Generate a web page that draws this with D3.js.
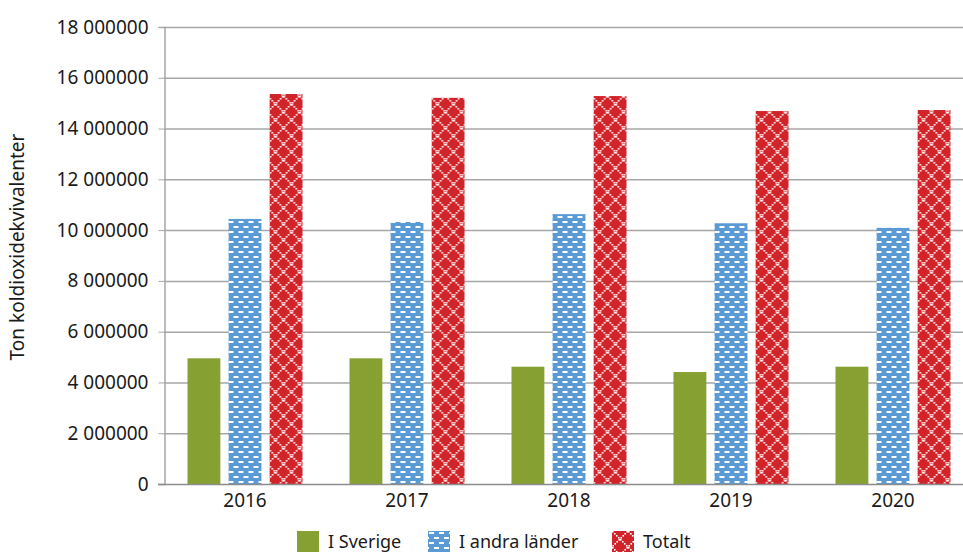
<!DOCTYPE html>
<html>
<head>
<meta charset="utf-8">
<script src="https://cdn.jsdelivr.net/npm/d3@7"></script>
<style>
  body { margin: 0; background: #fff; }
  text { font-family: 'Noto Sans', 'Open Sans', sans-serif; fill: #1a1a1a; }
</style>
</head>
<body>
<div id="chart"></div>
<script>
// chart data
const years = ['2016', '2017', '2018', '2019', '2020'];
const seriesNames = ['I Sverige', 'I andra länder', 'Totalt'];
const iSverige = [4950000, 4950000, 4620000, 4410000, 4620000];
const iAndraLander = [10440000, 10320000, 10630000, 10270000, 10090000];
const totalt = [15360000, 15210000, 15280000, 14690000, 14730000];
const yTicks = [0, 2000000, 4000000, 6000000, 8000000, 10000000, 12000000, 14000000, 16000000, 18000000];
const yTickLabels = ['0', '2 000000', '4 000000', '6 000000', '8 000000', '10 000000', '12 000000', '14 000000', '16 000000', '18 000000'];

const width = 963, height = 554;
const margin = { top: 27, left: 164, bottom: 70, right: -11 };

const svg = d3.select('#chart').append('svg')
  .attr('width', width)
  .attr('height', height);

const defs = svg.append('defs');

// blue brick pattern of white dashes
const pBlue = defs.append('pattern')
  .attr('id', 'pBlue')
  .attr('patternUnits', 'userSpaceOnUse')
  .attr('width', 10).attr('height', 10);
pBlue.append('rect').attr('width', 10).attr('height', 10).attr('fill', '#5b9bd5');
pBlue.append('rect').attr('x', 1).attr('y', 1).attr('width', 5).attr('height', 2).attr('fill', '#fff');
pBlue.append('rect').attr('x', 6).attr('y', 6).attr('width', 5).attr('height', 2).attr('fill', '#fff');
pBlue.append('rect').attr('x', -4).attr('y', 6).attr('width', 5).attr('height', 2).attr('fill', '#fff');

// red diamond lattice of dotted white lines
const pRed = defs.append('pattern')
  .attr('id', 'pRed')
  .attr('patternUnits', 'userSpaceOnUse')
  .attr('width', 16).attr('height', 16);
pRed.append('rect').attr('width', 16).attr('height', 16).attr('fill', '#d0232a');
d3.range(0, 16, 2).forEach(function(i) {
  pRed.append('rect').attr('x', i).attr('y', i).attr('width', 1.6).attr('height', 1.6).attr('fill', '#fff');
  pRed.append('rect').attr('x', 14.4 - i).attr('y', i).attr('width', 1.6).attr('height', 1.6).attr('fill', '#fff');
});

const fills = ['#86a032', 'url(#pBlue)', 'url(#pRed)'];
const values = [iSverige, iAndraLander, totalt];

const chartWidth = width - margin.left - margin.right;
const chartHeight = height - margin.top - margin.bottom;

const x0 = d3.scaleBand()
  .domain(years)
  .range([margin.left, margin.left + chartWidth])
  .paddingInner(0.29)
  .paddingOuter(0.145);

const x1 = d3.scaleBand()
  .domain(d3.range(seriesNames.length))
  .range([0, x0.bandwidth()])
  .paddingInner(0.2);

const y = d3.scaleLinear()
  .domain([0, 18000000])
  .range([margin.top + chartHeight, margin.top]);

// gridlines
svg.append('g')
  .selectAll('line')
  .data(yTicks.slice(1))
  .enter().append('line')
  .attr('x1', margin.left).attr('x2', width)
  .attr('y1', function(d) { return y(d) + 0.5; })
  .attr('y2', function(d) { return y(d) + 0.5; })
  .attr('stroke', '#a6a6a6')
  .attr('stroke-width', 1.5);

// y axis
const yAxis = svg.append('g')
  .attr('transform', 'translate(' + (margin.left + 0.5) + ',0)')
  .call(d3.axisLeft(y)
    .tickValues(yTicks)
    .tickSize(6)
    .tickPadding(10)
    .tickFormat(function(d, i) { return yTickLabels[i]; }));
yAxis.select('.domain').attr('stroke', '#a6a6a6').attr('stroke-width', 1.5);
yAxis.selectAll('.tick line').attr('stroke', '#a6a6a6');
yAxis.selectAll('.tick text').style('font-size', '19px').attr('fill', '#1a1a1a');

// bars
const groups = svg.append('g')
  .selectAll('g')
  .data(years)
  .enter().append('g')
  .attr('transform', function(d) { return 'translate(' + x0(d) + ',0)'; });

groups.selectAll('rect')
  .data(function(d, i) { return values.map(function(s, k) { return { k: k, v: s[i] }; }); })
  .enter().append('rect')
  .attr('x', function(d) { return x1(d.k); })
  .attr('width', x1.bandwidth())
  .attr('y', function(d) { return y(d.v); })
  .attr('height', function(d) { return y(0) - y(d.v); })
  .attr('fill', function(d) { return fills[d.k]; });

// x axis
const xAxis = svg.append('g')
  .attr('transform', 'translate(0,' + (y(0) + 0.5) + ')')
  .call(d3.axisBottom(x0).tickSize(0).tickPadding(9));
xAxis.select('.domain').attr('stroke', '#8c8c8c').attr('stroke-width', 1.5)
  .attr('d', 'M' + (margin.left - 6) + ',0H' + width);
xAxis.selectAll('.tick text').style('font-size', '19px').attr('fill', '#1a1a1a');

// y title
svg.append('text')
  .attr('transform', 'translate(24,' + 247 + ') rotate(-90)')
  .attr('text-anchor', 'middle')
  .style('font-size', '19px')
  .text('Ton koldioxidekvivalenter');

// legend
const legendX = [297, 428, 612];
const legend = svg.append('g')
  .selectAll('g')
  .data(seriesNames)
  .enter().append('g')
  .attr('transform', function(d, i) { return 'translate(' + legendX[i] + ',531)'; });
legend.append('rect')
  .attr('width', 22).attr('height', 21)
  .attr('fill', function(d, i) { return fills[i]; });
legend.append('text')
  .attr('x', 31).attr('y', 17)
  .style('font-size', '18px')
  .text(function(d) { return d; });
</script>
</body>
</html>
